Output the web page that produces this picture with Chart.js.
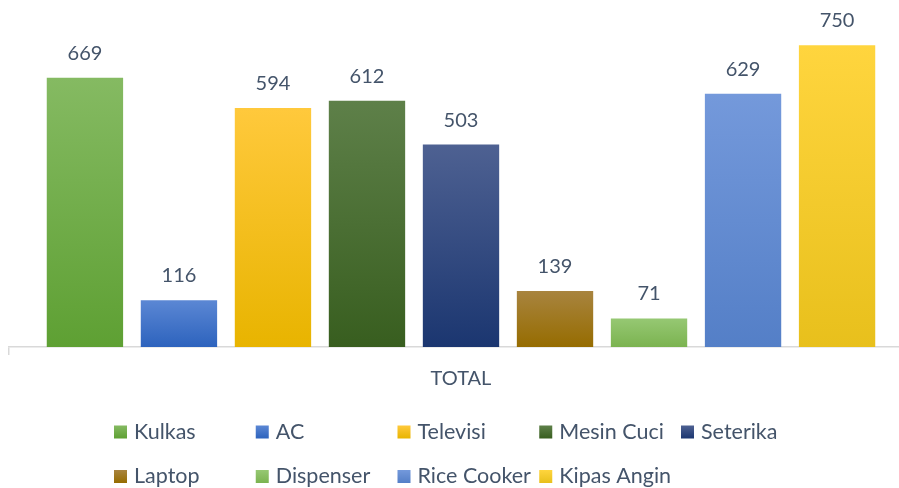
<!DOCTYPE html>
<html><head><meta charset="utf-8">
<script src="https://cdn.jsdelivr.net/npm/chart.js@4/dist/chart.umd.min.js"></script>
<style>html,body{margin:0;padding:0;overflow:hidden;background:#fff;width:899px;height:488px}canvas{display:block}</style>
</head><body>
<canvas id="c" width="930" height="488"></canvas>
<script>
const categories = ['TOTAL'];
const seriesNames = ['Kulkas', 'AC', 'Televisi', 'Mesin Cuci', 'Seterika', 'Laptop', 'Dispenser', 'Rice Cooker', 'Kipas Angin'];
const seriesValues = [669, 116, 594, 612, 503, 139, 71, 629, 750];

const topColors = ['#85BA62', '#5B87D4', '#FFC93C', '#5E8049', '#4E6192', '#A8843F', '#96C873', '#7499DB', '#FFD53E'];
const bottomColors = ['#5EA033', '#2D63BD', '#E8B400', '#385E1F', '#1B3670', '#966C00', '#7BB350', '#547FC7', '#E8C01C'];

const textColor = '#44546A';
const fontFamily = 'Lato, "Open Sans", sans-serif';

function gradientFor(i) {
  return function (ctx) {
    const chart = ctx.chart;
    if (!chart.chartArea || ctx.raw === undefined) return bottomColors[i];
    const ys = chart.scales.y;
    const top = ys.getPixelForValue(ctx.raw);
    const bottom = ys.getPixelForValue(0);
    const g = chart.ctx.createLinearGradient(0, top, 0, bottom);
    g.addColorStop(0, topColors[i]);
    g.addColorStop(1, bottomColors[i]);
    return g;
  };
}

const valueLabels = {
  id: 'valueLabels',
  afterDatasetsDraw(chart) {
    const c = chart.ctx;
    c.save();
    c.font = '20px ' + fontFamily;
    c.fillStyle = textColor;
    c.textAlign = 'center';
    c.textBaseline = 'alphabetic';
    chart.data.datasets.forEach((ds, i) => {
      const meta = chart.getDatasetMeta(i);
      meta.data.forEach((el, j) => {
        c.fillText(String(ds.data[j]), el.x, el.y - 18);
      });
    });
    c.restore();
  }
};

const gridLegend = {
  id: 'gridLegend',
  afterDraw(chart) {
    const c = chart.ctx;
    c.save();
    c.font = '21.5px ' + fontFamily;
    c.textBaseline = 'alphabetic';
    c.textAlign = 'left';
    const perRow = 5, x0 = 114, step = 141.75, base0 = 438.5, rowStep = 44.5, box = 13;
    chart.data.datasets.forEach((ds, i) => {
      const col = i % perRow, row = Math.floor(i / perRow);
      const x = x0 + col * step;
      const b = base0 + row * rowStep;
      const g = c.createLinearGradient(0, b - box, 0, b);
      g.addColorStop(0, topColors[i]);
      g.addColorStop(1, bottomColors[i]);
      c.fillStyle = g;
      c.fillRect(x, b - box, box, box);
      c.fillStyle = textColor;
      c.fillText(ds.label, x + 20, b);
    });
    c.restore();
  }
};

new Chart(document.getElementById('c'), {
  type: 'bar',
  data: {
    labels: categories,
    datasets: seriesNames.map((name, i) => ({
      label: name,
      data: [seriesValues[i]],
      backgroundColor: gradientFor(i),
      borderWidth: 0,
      barPercentage: 0.812,
      categoryPercentage: 0.936
    }))
  },
  options: {
    responsive: false,
    animation: false,
    layout: { padding: { top: 25, left: 9, right: 17, bottom: 0 } },
    plugins: { legend: { display: false }, tooltip: { enabled: false } },
    scales: {
      x: {
        afterFit(scale) { scale.height = 141; },
        grid: { offset: true, drawOnChartArea: false, drawTicks: true, tickLength: 8, color: '#D9D9D9', lineWidth: 1.5 },
        border: { display: true, color: '#D9D9D9', width: 1.5 },
        ticks: { color: textColor, font: { family: fontFamily, size: 20 }, padding: 12 }
      },
      y: {
        display: false,
        min: 0,
        max: 800
      }
    }
  },
  plugins: [valueLabels, gridLegend]
});
</script>
</body></html>
